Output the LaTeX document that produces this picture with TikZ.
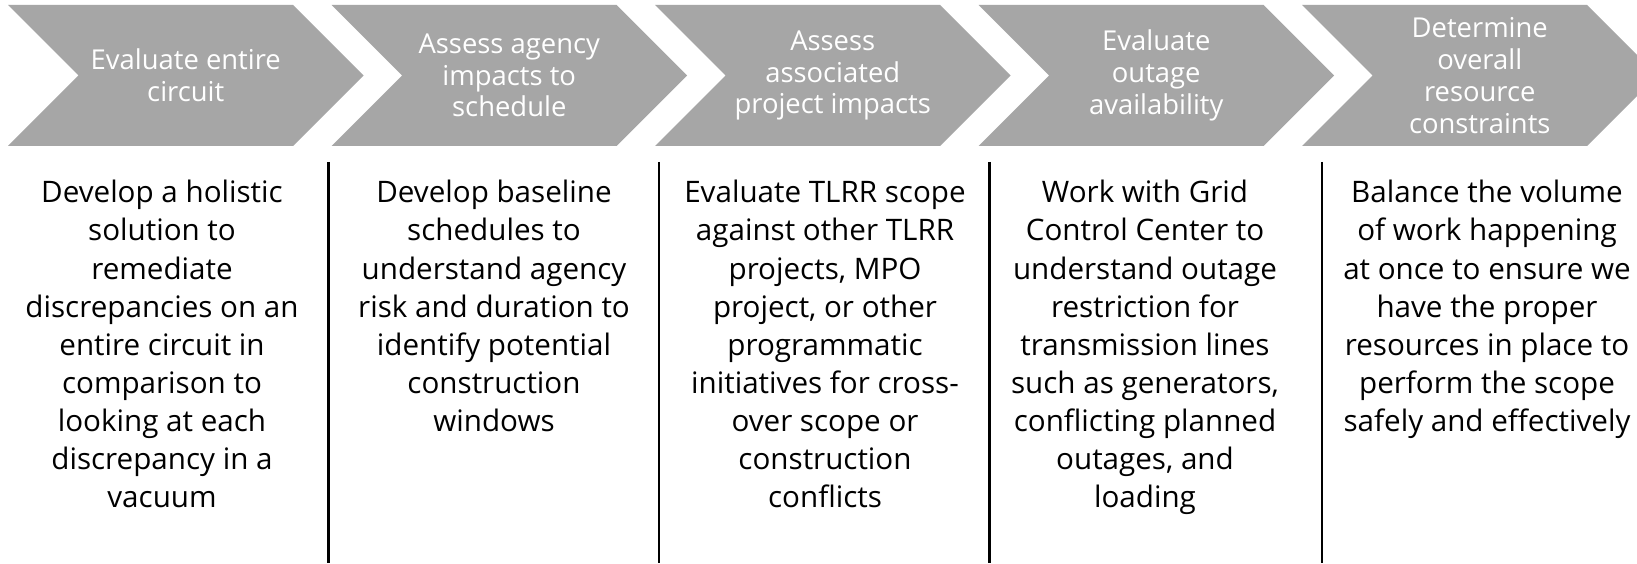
\documentclass[tikz,border=0pt]{standalone}
\usepackage{fontspec}
\setmainfont{Open Sans}
\usepackage{tikz}

\definecolor{chevgray}{HTML}{A6A6A6}

\begin{document}
\begin{tikzpicture}[x=0.5pt,y=0.5pt,
    chevron/.style={fill=chevgray,draw=none},
    head/.style={text=white,align=center,inner sep=0pt,font=\fontsize{13.7}{15.9}\selectfont},
    body/.style={text=black,align=center,anchor=north,inner sep=0pt,font=\fontsize{14.8}{19.05}\selectfont},
    divider/.style={draw=black,line width=1.2pt}]

  \clip (0,0) rectangle (1637,563);
  \fill[white] (0,0) rectangle (1637,563);

  \foreach \l in {8,331.5,655,978.5,1302}
    \fill[chevron] (\l,558) -- ++(285,0) -- ++(70.5,-70.5) -- ++(-70.5,-70.5) -- ++(-285,0) -- ++(70.5,70.5) -- cycle;

  \node [head] (h1) at (185.75,487.5) {Evaluate entire\\circuit};
  \node [head] (h2) at (509.25,487.5) {Assess agency\\impacts to\\schedule};
  \node [head] (h3) at (832.75,487.5) {Assess\\associated\\project impacts};
  \node [head] (h4) at (1156.25,487.5) {Evaluate\\outage\\availability};
  \node [head] (h5) at (1479.75,487.5) {Determine\\overall\\resource\\constraints};

  \draw [divider] (328.5,401) -- (328.5,0);
  \draw [divider] (659,401) -- (659,0);
  \draw [divider] (989.5,401) -- (989.5,0);
  \draw [divider] (1322,401) -- (1322,0);

  \node [body] (b1) at (162,383) {Develop a holistic\\solution to\\remediate\\discrepancies on an\\entire circuit in\\comparison to\\looking at each\\discrepancy in a\\vacuum};
  \node [body] (b2) at (494,383) {Develop baseline\\schedules to\\understand agency\\risk and duration to\\identify potential\\construction\\windows};
  \node [body] (b3) at (825,383) {Evaluate TLRR scope\\against other TLRR\\projects, MPO\\project, or other\\programmatic\\initiatives for cross-\\over scope or\\construction\\conflicts};
  \node [body] (b4) at (1145,383) {Work with Grid\\Control Center to\\understand outage\\restriction for\\transmission lines\\such as generators,\\conflicting planned\\outages, and\\loading};
  \node [body] (b5) at (1487,383) {Balance the volume\\of work happening\\at once to ensure we\\have the proper\\resources in place to\\perform the scope\\safely and effectively};
\end{tikzpicture}
\end{document}
